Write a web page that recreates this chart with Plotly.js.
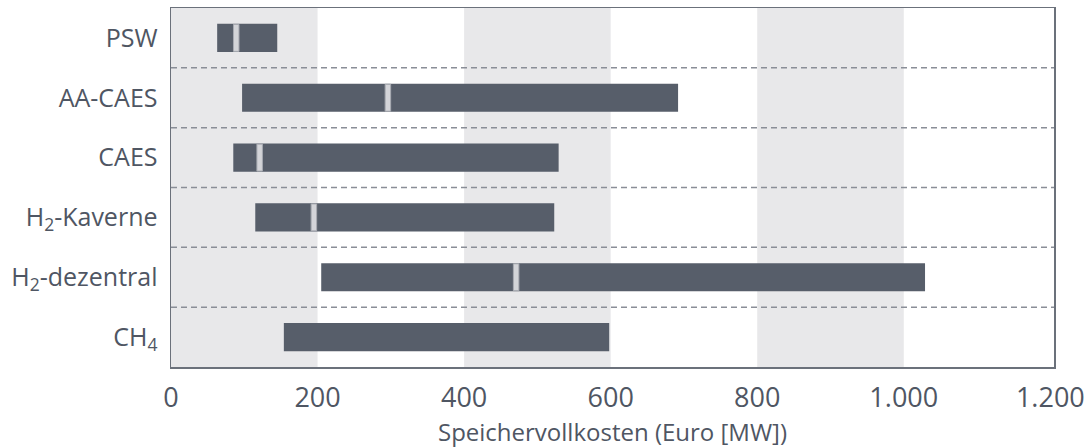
<!DOCTYPE html>
<html>
<head>
<meta charset="utf-8">
<script src="https://cdn.plot.ly/plotly-3.0.1.min.js"></script>
<style>html,body{margin:0;padding:0;background:#fff;}#chart{width:1086px;height:448px;}</style>
</head>
<body>
<div id="chart"></div>
<script>
const categories = ["PSW", "AA-CAES", "CAES", "H<sub>2</sub>-Kaverne", "H<sub>2</sub>-dezentral", "CH<sub>4</sub>"];
const rangeMin = [63, 97, 85, 115, 205, 154];
const rangeMax = [145, 692, 529, 523, 1029, 598];
const median = [89, 296, 121, 195, 471, null];
const xTickVals = [0, 200, 400, 600, 800, 1000, 1200];
const xTickText = ["0", "200", "400", "600", "800", "1.000", "1.200"];
const bandStarts = [0, 400, 800];
const bandWidth = 200;

const textColor = "#4f5663";
const barColor = "#575e6a";
const medW = 7.5;

const medCats = [], medBase = [], medLen = [];
median.forEach((m, i) => { if (m !== null) { medCats.push(categories[i]); medBase.push(m - medW / 2); medLen.push(medW); } });

const traces = [
  {
    type: "bar", orientation: "h", y: categories,
    base: rangeMin, x: rangeMax.map((v, i) => v - rangeMin[i]),
    width: 0.47, marker: { color: barColor, line: { width: 0 } },
    hoverinfo: "skip", showlegend: false
  },
  {
    type: "bar", orientation: "h", y: medCats,
    base: medBase, x: medLen,
    width: 0.45, marker: { color: "#d3d4d8", line: { color: "#a8abb2", width: 1 } },
    hoverinfo: "skip", showlegend: false
  }
];

const shapes = [];
bandStarts.forEach(s => shapes.push({
  type: "rect", xref: "x", yref: "paper", x0: s, x1: s + bandWidth, y0: 0, y1: 1,
  fillcolor: "#e8e8ea", line: { width: 0 }, layer: "below"
}));
for (let i = 0; i < categories.length - 1; i++) {
  shapes.push({
    type: "line", xref: "paper", yref: "y", x0: 0, x1: 1, y0: i + 0.5, y1: i + 0.5,
    line: { color: "#8a8e97", width: 1.5, dash: "6px,4px" }, layer: "below"
  });
}

const layout = {
  width: 1086, height: 448,
  margin: { l: 171, r: 32, t: 8, b: 81 },
  paper_bgcolor: "#ffffff", plot_bgcolor: "rgba(0,0,0,0)",
  barmode: "overlay",
  showlegend: false,
  font: { family: "Open Sans, sans-serif", color: textColor },
  xaxis: {
    range: [0, 1205], tickvals: xTickVals, ticktext: xTickText,
    showgrid: false, zeroline: false,
    showline: true, mirror: true, linecolor: "#6b717b", linewidth: 1.5,
    ticks: "", tickfont: { size: 27, color: textColor },
    ticklabelstandoff: 6,
    title: { text: "Speichervollkosten (Euro [MW])", font: { size: 24, color: textColor }, standoff: 4 }
  },
  yaxis: {
    type: "category", categoryorder: "array", categoryarray: categories,
    autorange: false, range: [5.5, -0.5],
    showgrid: false, zeroline: false,
    showline: true, mirror: true, linecolor: "#6b717b", linewidth: 1.5,
    ticks: "", tickfont: { size: 25, color: textColor },
    ticklabelstandoff: 7
  },
  shapes: shapes
};

Plotly.newPlot("chart", traces, layout, { staticPlot: true, displayModeBar: false });
</script>
</body>
</html>
